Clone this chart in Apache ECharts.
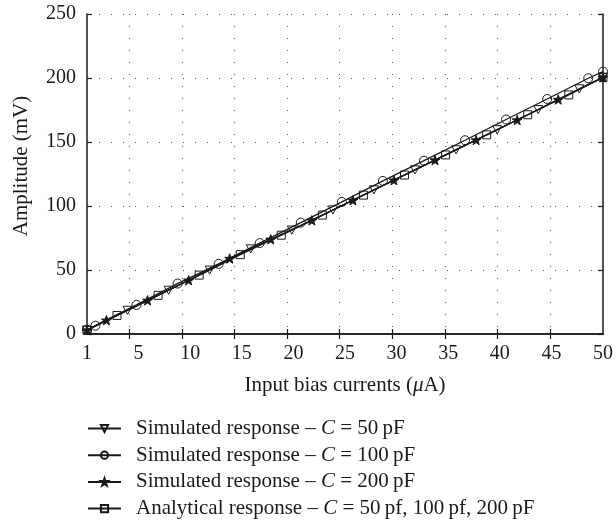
<!DOCTYPE html>
<html>
<head>
<meta charset="utf-8">
<script src="https://cdn.jsdelivr.net/npm/echarts@6/dist/echarts.min.js"></script>
<style>
  html, body { margin: 0; padding: 0; background: #fff; }
  #chart { width: 616px; height: 527px; }
</style>
</head>
<body>
<div id="chart"></div>
<script>
// Amplitude versus input bias current for the three capacitor values

// Grid/tick positions on the current scale, and the evenly spaced label row
const xGridValues = [5, 10, 15, 20, 25, 30, 35, 40, 45];
const xTickLabels = ['1', '5', '10', '15', '20', '25', '30', '35', '40', '45', '50'];

const sim50X = [1, 4.85, 8.75, 12.65, 16.55, 20.45, 24.35, 28.25, 32.15, 36.05, 39.95, 43.85, 47.75, 50];
const sim50Y = [3, 18.5, 34.2, 49.9, 66.5, 81.2, 96.9, 112.6, 128.2, 143.9, 159.6, 175.3, 191.5, 200.5];

const sim100X = [1, 1.8, 5.7, 9.6, 13.5, 17.4, 21.3, 25.2, 29.1, 33.0, 36.9, 40.8, 44.7, 48.6, 50];
const sim100Y = [3.2, 6.5, 22.7, 39.4, 54.8, 71, 87, 103.2, 119.6, 135.4, 151.4, 167.6, 183.6, 199.8, 205];

const sim200X = [1, 2.85, 6.75, 10.65, 14.55, 18.45, 22.35, 26.25, 30.15, 34.05, 37.95, 41.85, 45.75, 50];
const sim200Y = [3, 10.8, 26.3, 42, 59, 74, 88.8, 104.5, 120.2, 135.9, 151.6, 167.2, 183.2, 200.5];

const analyticX = [1, 3.85, 7.75, 11.65, 15.55, 19.45, 23.35, 27.25, 31.15, 35.05, 38.95, 42.85, 46.75, 50];
const analyticY = [3, 14.5, 30.2, 46, 62, 77.2, 92.9, 108.5, 124.2, 139.9, 155.6, 171.3, 186.8, 200.5];

const seriesNames = [
  'Simulated response – C = 50 pF',
  'Simulated response – C = 100 pF',
  'Simulated response – C = 200 pF',
  'Analytical response – C = 50 pf, 100 pf, 200 pF'
];

const legendRich = [
  '{n|Simulated response – }{i|C}{n| = 50\u2009pF}',
  '{n|Simulated response – }{i|C}{n| = 100\u2009pF}',
  '{n|Simulated response – }{i|C}{n| = 200\u2009pF}',
  '{n|Analytical response – }{i|C}{n| = 50\u2009pf, 100\u2009pf, 200\u2009pF}'
];

const FONT = 'Liberation Serif';
const INK = '#1a1a1a';

const triDown = 'path://M0,0 L10,0 L5,9 Z';
const star = 'path://M10,0 L12.35,6.76 L19.51,6.91 L13.80,11.24 L15.88,18.09 L10,14 L4.12,18.09 L6.20,11.24 L0.49,6.91 L7.65,6.76 Z';

function pairs(xs, ys) { return xs.map((x, i) => [x, ys[i]]); }

function lineSeries(name, xs, ys, symbol, size, fill) {
  return {
    name: name,
    type: 'line',
    xAxisIndex: 0,
    yAxisIndex: 0,
    data: pairs(xs, ys),
    symbol: symbol,
    symbolSize: size,
    symbolKeepAspect: true,
    showAllSymbol: true,
    lineStyle: { color: INK, width: 1.3 },
    itemStyle: { color: fill, borderColor: INK, borderWidth: 1 },
    emphasis: { disabled: true },
    animation: false
  };
}

const chart = echarts.init(document.getElementById('chart'), null, { renderer: 'canvas' });

const dotted = { color: '#555', width: 1, type: [1, 11] };
const frameLine = { show: true, lineStyle: { color: INK, width: 1.5 } };
const innerTick = { show: true, inside: true, length: 5, lineStyle: { color: INK, width: 1.2 } };

chart.setOption({
  backgroundColor: '#fff',
  animation: false,
  grid: { left: 87, right: 9, top: 14, bottom: 193, containLabel: false },
  legend: {
    orient: 'vertical',
    left: 87,
    top: 418,
    padding: 0,
    itemWidth: 33,
    itemHeight: 9,
    itemGap: 5.7,
    selectedMode: false,
    data: seriesNames,
    formatter: function (name) { return legendRich[seriesNames.indexOf(name)]; },
    textStyle: {
      padding: [0, 0, 0, 10],
      rich: {
        n: { fontFamily: FONT, fontSize: 21, color: INK, lineHeight: 21 },
        i: { fontFamily: FONT, fontSize: 21, color: INK, fontStyle: 'italic', lineHeight: 21 }
      }
    }
  },
  xAxis: [
    {
      // data scale: frame, ticks and grid
      type: 'value',
      position: 'bottom',
      min: 1,
      max: 50,
      name: '{a|Input bias currents (}{i|μ}{a|A)}',
      nameLocation: 'middle',
      nameGap: 41,
      nameTextStyle: {
        rich: {
          a: { fontFamily: FONT, fontSize: 21, color: INK },
          i: { fontFamily: FONT, fontSize: 21, color: INK, fontStyle: 'italic' }
        }
      },
      axisLine: frameLine,
      axisTick: Object.assign({ customValues: xGridValues }, innerTick),
      axisLabel: { show: false },
      splitLine: { show: true, lineStyle: dotted }
    },
    {
      type: 'value',
      position: 'top',
      min: 1,
      max: 50,
      axisLine: frameLine,
      axisTick: Object.assign({ customValues: xGridValues }, innerTick),
      axisLabel: { show: false },
      splitLine: { show: false }
    },
    {
      // evenly spaced tick-label row under the frame
      type: 'value',
      position: 'bottom',
      min: 0,
      max: 50,
      interval: 5,
      axisLine: { show: false },
      axisTick: { show: false },
      splitLine: { show: false },
      axisLabel: {
        show: true,
        margin: 10,
        fontFamily: FONT,
        fontSize: 20,
        color: INK,
        hideOverlap: false,
        formatter: function (v) { return xTickLabels[Math.round(v / 5)]; }
      }
    }
  ],
  yAxis: [
    {
      type: 'value',
      position: 'left',
      min: 0,
      max: 250,
      interval: 50,
      name: 'Amplitude (mV)',
      nameLocation: 'middle',
      nameGap: 55,
      nameTextStyle: { fontFamily: FONT, fontSize: 21, color: INK, padding: [0, 0, 0, 16] },
      axisLine: frameLine,
      axisTick: innerTick,
      axisLabel: { margin: 11, fontFamily: FONT, fontSize: 20, color: INK },
      splitLine: { show: true, lineStyle: dotted }
    },
    {
      type: 'value',
      position: 'right',
      min: 0,
      max: 250,
      interval: 50,
      axisLine: frameLine,
      axisTick: innerTick,
      axisLabel: { show: false },
      splitLine: { show: false }
    }
  ],
  series: [
    lineSeries(seriesNames[0], sim50X, sim50Y, triDown, 9, 'none'),
    lineSeries(seriesNames[1], sim100X, sim100Y, 'circle', 9, 'none'),
    lineSeries(seriesNames[2], sim200X, sim200Y, star, 10, INK),
    lineSeries(seriesNames[3], analyticX, analyticY, 'rect', 8, 'none')
  ]
});
</script>
</body>
</html>
